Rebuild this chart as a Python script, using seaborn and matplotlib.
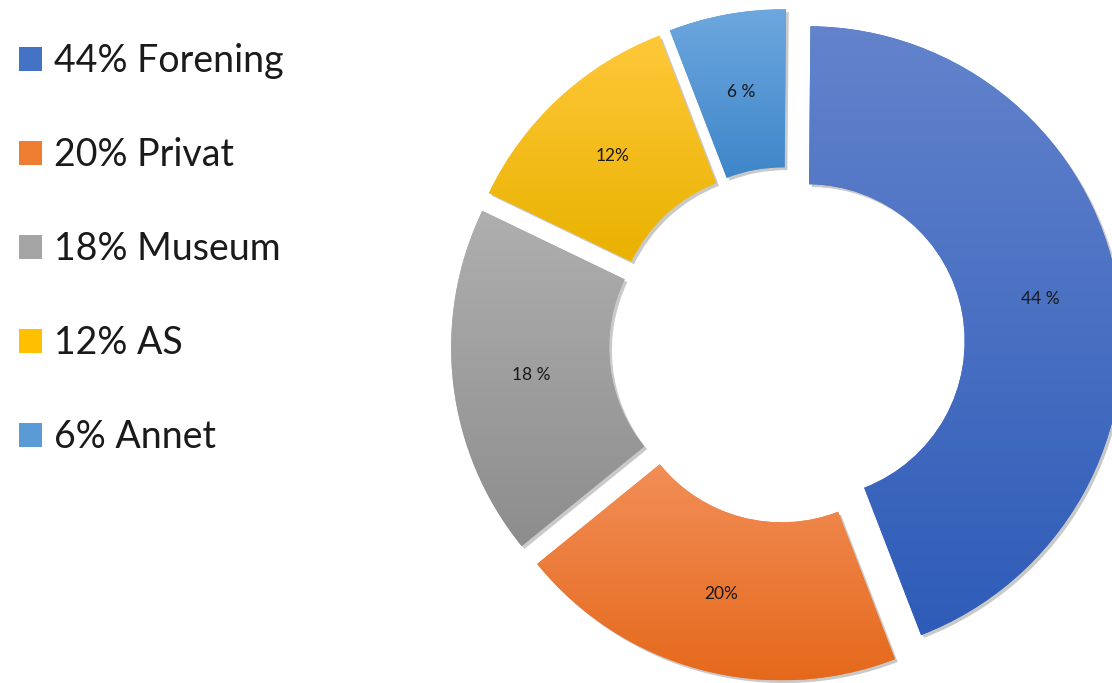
import numpy as np
import matplotlib
matplotlib.use("Agg")
import matplotlib.pyplot as plt
import matplotlib.patheffects as pe
from matplotlib.colors import LinearSegmentedColormap
from matplotlib.patches import Patch
import seaborn as sns

# data
categories = ["Forening", "Privat", "Museum", "AS", "Annet"]
shares = [44, 20, 18, 12, 6]
slice_labels = ["44 %", "20%", "18 %", "12%", "6 %"]
legend_labels = ["44% Forening", "20% Privat", "18% Museum", "12% AS", "6% Annet"]

# gradient colours (top, bottom) per slice, office style
top_colors = ["#6383cc", "#f28e58", "#afafaf", "#ffc83a", "#6da7de"]
bottom_colors = ["#2e5cb8", "#e5691b", "#8d8d8d", "#e9b200", "#3e86c9"]
mid_colors = ["#4472c4", "#ed7d31", "#a5a5a5", "#ffc000", "#5b9bd5"]

sns.set_theme(style="white")
plt.rcParams["font.family"] = ["Lato", "DejaVu Sans"]

W, H = 1112, 683
fig = plt.figure(figsize=(W / 100, H / 100), dpi=100)
ax = fig.add_axes([0, 0, 1, 1])
ax.set_xlim(0, W)
ax.set_ylim(0, H)
ax.axis("off")

lab_iter = iter(slice_labels)
# explode is in data units here (axes are in pixels)
wedges, _, autotexts = ax.pie(
    shares,
    colors=mid_colors,
    startangle=89.5,
    counterclock=False,
    center=(787, 338),
    radius=315,
    explode=[21] * len(shares),
    wedgeprops=dict(width=158, linewidth=0),
    autopct=lambda p: next(lab_iter),
    pctdistance=0.75,
    labels=None,
    frame=True,
)

for w, top, bot in zip(wedges, top_colors, bottom_colors):
    w.set_path_effects([
        pe.SimplePatchShadow(offset=(2, -2), shadow_rgbFace="#666666", alpha=0.35),
        pe.Normal(),
    ])
    ext = w.get_path().get_extents()
    cmap = LinearSegmentedColormap.from_list("g", [top, bot])
    grad = np.linspace(0, 1, 256).reshape(-1, 1)
    im = ax.imshow(grad, extent=(ext.x0, ext.x1, ext.y0, ext.y1), origin="upper",
                   aspect="auto", cmap=cmap, zorder=2)
    im.set_clip_path(w)

for t in autotexts:
    t.set_fontsize(12.5)
    t.set_color("#1a1a1a")
    t.set_zorder(4)

handles = [Patch(facecolor=c, edgecolor="none") for c in mid_colors]
ax.legend(handles, legend_labels, loc="upper left",
          bbox_to_anchor=(19 / W, 1 - 43 / H), bbox_transform=fig.transFigure,
          frameon=False, fontsize=27, labelspacing=1.55, handlelength=0.61,
          handleheight=0.61, handletextpad=0.33, borderpad=0, borderaxespad=0,
          labelcolor="#1a1a1a")

ax.set_xlim(0, W)
ax.set_ylim(0, H)
ax.set_aspect("equal")
ax.axis("off")

fig.savefig("out.png", dpi=100, facecolor="white")
